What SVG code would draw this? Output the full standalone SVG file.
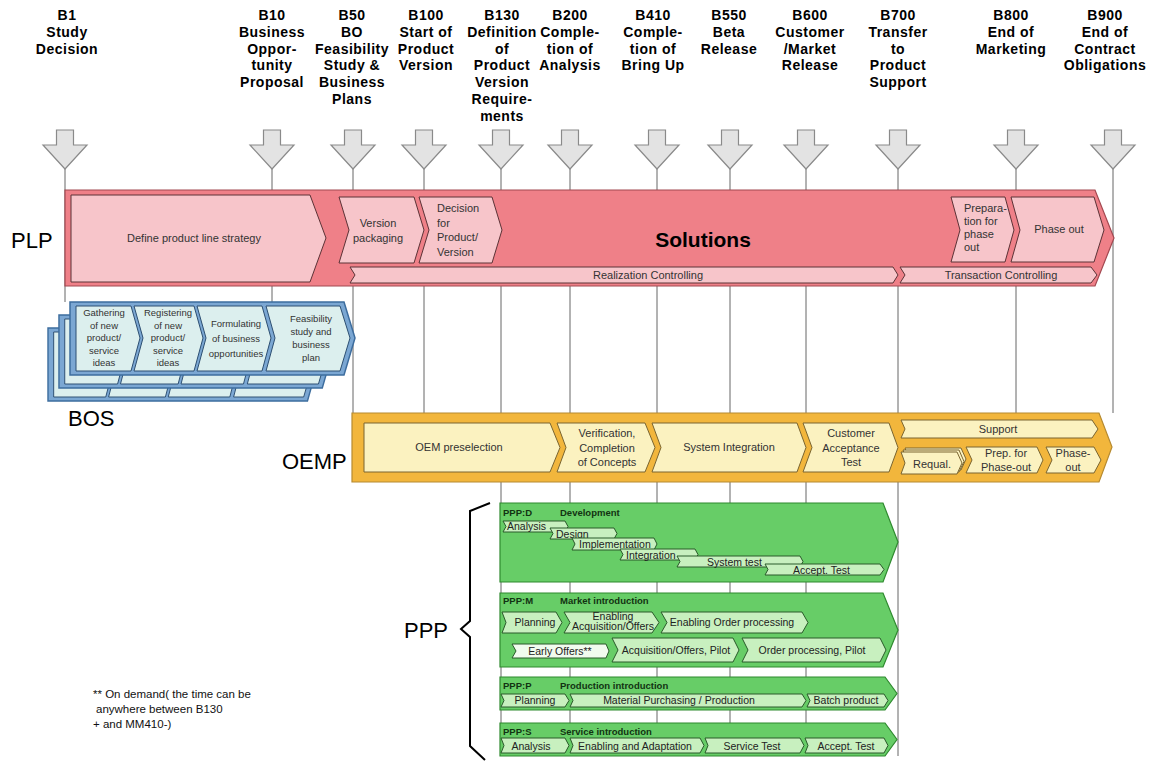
<svg xmlns="http://www.w3.org/2000/svg" xmlns:xlink="http://www.w3.org/1999/xlink" width="1156" height="764" viewBox="0 0 1156 764">
  <defs>
    <style>
      .hdr { font-family: "Liberation Sans", Arial, sans-serif; font-weight: bold; font-size: 14px; letter-spacing: 0.5px; text-anchor: middle; fill: #000; }
      .lbl { font-family: "Liberation Sans", Arial, sans-serif; font-size: 22px; fill: #000; }
      .t { font-family: "Liberation Sans", Arial, sans-serif; font-size: 11px; fill: #333; text-anchor: middle; }
      .ts { font-family: "Liberation Sans", Arial, sans-serif; font-size: 9.5px; fill: #333; text-anchor: middle; }
      .tp { font-family: "Liberation Sans", Arial, sans-serif; font-size: 10.5px; fill: #222; text-anchor: middle; }
      .tl { text-anchor: start; }
      .ttl { font-family: "Liberation Sans", Arial, sans-serif; font-size: 9.5px; font-weight: bold; fill: #123312; }
      .vline { stroke: #666; stroke-width: 1; }
      .msarrow { fill: #e3e3e3; stroke: #8a8a8a; stroke-width: 1.2; }
      .plp-band { fill: #ef8088; stroke: #a24850; stroke-width: 1.2; }
      .plp-box { fill: #f7c5ca; stroke: #5c3236; stroke-width: 1; }
      .bos-frame { fill: #7ba7d3; stroke: #3d6d9e; stroke-width: 1.5; }
      .bos-box { fill: #dcefee; stroke: #2d4f72; stroke-width: 1; }
      .oemp-band { fill: #f2b63c; stroke: #b68a30; stroke-width: 1.2; }
      .oemp-box { fill: #fbf2c0; stroke: #7a6530; stroke-width: 1; }
      .ppp-band { fill: #67cd67; stroke: #2f8a2f; stroke-width: 1.2; }
      .ppp-box { fill: #c8f0bf; stroke: #2a5a2a; stroke-width: 1; }
      .ppp-box-pale { fill: #f1fbee; stroke: #2a5a2a; stroke-width: 1; }
    </style>
    <path id="ms-arrow" class="msarrow" d="M-8.5,130 H8.5 V145 H22 L0,169 L-22,145 H-8.5 Z"/>
    <g id="bos-frame">
      <polygon class="bos-frame" points="70,302 344,302 355,338 344,375 70,375"/>
      <polygon class="bos-box" points="76,306 131,306 140,338 131,371 76,371"/>
      <polygon class="bos-box" points="134,306 194,306 203,338 194,371 134,371 143,338"/>
      <polygon class="bos-box" points="197,306 262,306 271,338 262,371 197,371 206,338"/>
      <polygon class="bos-box" points="266,306 340,306 350,338 340,371 266,371 275,338"/>
    </g>
  </defs>

  <rect width="1156" height="764" fill="#fff"/>

  <!-- milestone guide lines -->
  <g id="connectors">
    <line class="vline" x1="65" y1="169" x2="65" y2="302"/>
    <line class="vline" x1="272" y1="169" x2="272" y2="302"/>
    <line class="vline" x1="353" y1="169" x2="353" y2="413"/>
    <line class="vline" x1="424" y1="169" x2="424" y2="413"/>
    <line class="vline" x1="501" y1="169" x2="501" y2="756"/>
    <line class="vline" x1="570" y1="169" x2="570" y2="756"/>
    <line class="vline" x1="657" y1="169" x2="657" y2="756"/>
    <line class="vline" x1="730" y1="169" x2="730" y2="756"/>
    <line class="vline" x1="806" y1="169" x2="806" y2="756"/>
    <line class="vline" x1="898" y1="169" x2="898" y2="756"/>
    <line class="vline" x1="1016" y1="169" x2="1016" y2="413"/>
    <line class="vline" x1="1113" y1="169" x2="1113" y2="413"/>
  </g>

  <!-- milestones -->
  <g id="ms-b1">
    <use xlink:href="#ms-arrow" x="65"/>
    <text class="hdr" x="67" y="20">B1<tspan x="67" dy="16.8">Study</tspan><tspan x="67" dy="16.8">Decision</tspan></text>
  </g>
  <g id="ms-b10">
    <use xlink:href="#ms-arrow" x="272"/>
    <text class="hdr" x="272" y="20">B10<tspan x="272" dy="16.8">Business</tspan><tspan x="272" dy="16.8">Oppor-</tspan><tspan x="272" dy="16.8">tunity</tspan><tspan x="272" dy="16.8">Proposal</tspan></text>
  </g>
  <g id="ms-b50">
    <use xlink:href="#ms-arrow" x="353"/>
    <text class="hdr" x="352" y="20">B50<tspan x="352" dy="16.8">BO</tspan><tspan x="352" dy="16.8">Feasibility</tspan><tspan x="352" dy="16.8">Study &amp;</tspan><tspan x="352" dy="16.8">Business</tspan><tspan x="352" dy="16.8">Plans</tspan></text>
  </g>
  <g id="ms-b100">
    <use xlink:href="#ms-arrow" x="424"/>
    <text class="hdr" x="426" y="20">B100<tspan x="426" dy="16.8">Start of</tspan><tspan x="426" dy="16.8">Product</tspan><tspan x="426" dy="16.8">Version</tspan></text>
  </g>
  <g id="ms-b130">
    <use xlink:href="#ms-arrow" x="501"/>
    <text class="hdr" x="502" y="20">B130<tspan x="502" dy="16.8">Definition</tspan><tspan x="502" dy="16.8">of</tspan><tspan x="502" dy="16.8">Product</tspan><tspan x="502" dy="16.8">Version</tspan><tspan x="502" dy="16.8">Require-</tspan><tspan x="502" dy="16.8">ments</tspan></text>
  </g>
  <g id="ms-b200">
    <use xlink:href="#ms-arrow" x="570"/>
    <text class="hdr" x="570" y="20">B200<tspan x="570" dy="16.8">Comple-</tspan><tspan x="570" dy="16.8">tion of</tspan><tspan x="570" dy="16.8">Analysis</tspan></text>
  </g>
  <g id="ms-b410">
    <use xlink:href="#ms-arrow" x="657"/>
    <text class="hdr" x="653" y="20">B410<tspan x="653" dy="16.8">Comple-</tspan><tspan x="653" dy="16.8">tion of</tspan><tspan x="653" dy="16.8">Bring Up</tspan></text>
  </g>
  <g id="ms-b550">
    <use xlink:href="#ms-arrow" x="730"/>
    <text class="hdr" x="729" y="20">B550<tspan x="729" dy="16.8">Beta</tspan><tspan x="729" dy="16.8">Release</tspan></text>
  </g>
  <g id="ms-b600">
    <use xlink:href="#ms-arrow" x="806"/>
    <text class="hdr" x="810" y="20">B600<tspan x="810" dy="16.8">Customer</tspan><tspan x="810" dy="16.8">/Market</tspan><tspan x="810" dy="16.8">Release</tspan></text>
  </g>
  <g id="ms-b700">
    <use xlink:href="#ms-arrow" x="898"/>
    <text class="hdr" x="898" y="20">B700<tspan x="898" dy="16.8">Transfer</tspan><tspan x="898" dy="16.8">to</tspan><tspan x="898" dy="16.8">Product</tspan><tspan x="898" dy="16.8">Support</tspan></text>
  </g>
  <g id="ms-b800">
    <use xlink:href="#ms-arrow" x="1016"/>
    <text class="hdr" x="1011" y="20">B800<tspan x="1011" dy="16.8">End of</tspan><tspan x="1011" dy="16.8">Marketing</tspan></text>
  </g>
  <g id="ms-b900">
    <use xlink:href="#ms-arrow" x="1113"/>
    <text class="hdr" x="1105" y="20">B900<tspan x="1105" dy="16.8">End of</tspan><tspan x="1105" dy="16.8">Contract</tspan><tspan x="1105" dy="16.8">Obligations</tspan></text>
  </g>

  <!-- PLP: product line process -->
  <g id="plp">
    <text class="lbl" x="11" y="248">PLP</text>
    <polygon class="plp-band" points="65,190 1095,190 1114,238 1095,286 65,286"/>
    <polygon class="plp-box" points="71,195 310,195 326,238 310,282 71,282"/>
    <text class="t" x="194" y="242">Define product line strategy</text>
    <polygon class="plp-box" points="339,197 414,197 424,230 414,263 339,263 349,230"/>
    <text class="t" x="378" y="227">Version<tspan x="378" dy="15">packaging</tspan></text>
    <polygon class="plp-box" points="419,197 492,197 502,230 492,263 419,263 429,230"/>
    <text class="t tl" x="437" y="212">Decision<tspan x="437" dy="14.5">for</tspan><tspan x="437" dy="14.5">Product/</tspan><tspan x="437" dy="14.5">Version</tspan></text>
    <text x="703" y="247" font-family="Liberation Sans, Arial, sans-serif" font-size="21" font-weight="bold" text-anchor="middle" fill="#000">Solutions</text>
    <polygon class="plp-box" points="951,197 1005,197 1014,230 1005,262 951,262 960,230"/>
    <text class="t tl" x="964" y="212" font-size="8.5">Prepara-<tspan x="964" dy="13">tion for</tspan><tspan x="964" dy="13">phase</tspan><tspan x="964" dy="12.5">out</tspan></text>
    <polygon class="plp-box" points="1011,197 1094,197 1104,230 1094,262 1011,262 1020,230"/>
    <text class="t" x="1059" y="233">Phase out</text>
    <polygon class="plp-box" points="350,267 893,267 898,275 893,283 350,283 355,275"/>
    <text class="t" x="648" y="279">Realization Controlling</text>
    <polygon class="plp-box" points="900,267 1091,267 1097,275 1091,283 900,283 905,275"/>
    <text class="t" x="1001" y="279">Transaction Controlling</text>
  </g>

  <!-- BOS: business opportunity stack -->
  <g id="bos">
    <use xlink:href="#bos-frame" transform="translate(-18.3,26) scale(0.947,1)"/>
    <use xlink:href="#bos-frame" transform="translate(-8.3,13) scale(0.961,1)"/>
    <use xlink:href="#bos-frame"/>
    <text class="ts" x="104" y="316">Gathering<tspan x="104" dy="12.5">of new</tspan><tspan x="104" dy="12.5">product/</tspan><tspan x="104" dy="12.5">service</tspan><tspan x="104" dy="12.5">ideas</tspan></text>
    <text class="ts" x="168" y="316">Registering<tspan x="168" dy="12.5">of new</tspan><tspan x="168" dy="12.5">product/</tspan><tspan x="168" dy="12.5">service</tspan><tspan x="168" dy="12.5">ideas</tspan></text>
    <text class="ts" x="236" y="327">Formulating<tspan x="236" dy="15">of business</tspan><tspan x="236" dy="15">opportunities</tspan></text>
    <text class="ts" x="311" y="322">Feasibility<tspan x="311" dy="13">study and</tspan><tspan x="311" dy="13">business</tspan><tspan x="311" dy="13">plan</tspan></text>
    <text class="lbl" x="68" y="426">BOS</text>
  </g>

  <!-- OEMP: OEM process -->
  <g id="oemp">
    <text class="lbl" x="282" y="469">OEMP</text>
    <polygon class="oemp-band" points="352,413 1099,413 1112,447 1099,482 352,482"/>
    <polygon class="oemp-box" points="364,423 550,423 560,447.5 550,472 364,472"/>
    <text class="t" x="459" y="451" font-size="11.5">OEM preselection</text>
    <polygon class="oemp-box" points="557,423 645,423 655,447.5 645,472 557,472 566,447.5"/>
    <text class="t" x="607" y="437" font-size="11.5">Verification,<tspan x="607" dy="14.5">Completion</tspan><tspan x="607" dy="14.5">of Concepts</tspan></text>
    <polygon class="oemp-box" points="652,423 797,423 806,447.5 797,472 652,472 661,447.5"/>
    <text class="t" x="729" y="451" font-size="11.5">System Integration</text>
    <polygon class="oemp-box" points="803,423 889,423 898,447.5 889,472 803,472 812,447.5"/>
    <text class="t" x="851" y="437" font-size="11.5">Customer<tspan x="851" dy="14.5">Acceptance</tspan><tspan x="851" dy="14.5">Test</tspan></text>
    <polygon class="oemp-box" points="901,420 1092,420 1098,429 1092,438 901,438 905,429"/>
    <text class="t" x="998" y="433" font-size="11.5">Support</text>
    <polygon class="oemp-box" points="905,448 961,448 966,459 961,470 905,470 909,459"/>
    <polygon class="oemp-box" points="903,450 959,450 964,461.5 959,472 903,472 907,461.5"/>
    <polygon class="oemp-box" points="901,452 957,452 962,463 957,474 901,474 905,463"/>
    <text class="t" x="932" y="468" font-size="11.5">Requal.</text>
    <polygon class="oemp-box" points="966,447 1037,447 1043,460 1037,473 966,473 972,460"/>
    <text class="t" x="1006" y="457" font-size="11.5">Prep. for<tspan x="1006" dy="14">Phase-out</tspan></text>
    <polygon class="oemp-box" points="1046,447 1094,447 1101,460 1094,473 1046,473 1052,460"/>
    <text class="t" x="1073" y="457" font-size="11.5">Phase-<tspan x="1073" dy="14">out</tspan></text>
  </g>

  <!-- PPP: product provision process -->
  <g id="ppp">
    <path d="M490,503 L470,511 L470,621 L461,629 L470,637 L470,746 L485,760" fill="none" stroke="#000" stroke-width="2"/>
    <text class="lbl" x="448" y="638" text-anchor="end">PPP</text>
  </g>

  <g id="ppp-d">
    <polygon class="ppp-band" points="500,503 883,503 898,542 883,582 500,582"/>
    <text class="ttl" x="503" y="516">PPP:D</text>
    <text class="ttl" x="560" y="516">Development</text>
    <polygon class="ppp-box" points="503,521 565,521 568,526.5 565,532 503,532 506,526.5"/>
    <text class="tp tl" x="507" y="530" font-size="10">Analysis</text>
    <polygon class="ppp-box" points="550,528 614,528 617,533.5 614,539 550,539 553,533.5"/>
    <text class="tp tl" x="556" y="537.5" font-size="10">Design</text>
    <polygon class="ppp-box" points="572,538 654,538 657,544 654,550 572,550 575,544"/>
    <text class="tp tl" x="579" y="548" font-size="10">Implementation</text>
    <polygon class="ppp-box" points="620,549 695,549 698,554.5 695,560 620,560 623,554.5"/>
    <text class="tp tl" x="626" y="558.5" font-size="10">Integration</text>
    <polygon class="ppp-box" points="677,556 800,556 803,561.5 800,567 677,567 680,561.5"/>
    <text class="tp tl" x="707" y="565.5" font-size="10">System test</text>
    <polygon class="ppp-box" points="765,564 880,564 884,569.5 880,575 765,575 768,569.5"/>
    <text class="tp tl" x="793" y="573.5" font-size="10">Accept. Test</text>
  </g>

  <g id="ppp-m">
    <polygon class="ppp-band" points="500,593 883,593 898,630 883,667 500,667"/>
    <text class="ttl" x="503" y="604">PPP:M</text>
    <text class="ttl" x="560" y="604">Market introduction</text>
    <polygon class="ppp-box" points="502,612 556,612 562,622.5 556,633 502,633 506,622.5"/>
    <text class="tp" x="535" y="626">Planning</text>
    <polygon class="ppp-box" points="564,612 652,612 659,622.5 652,633 564,633 570,622.5"/>
    <text class="tp" x="613" y="620" font-size="10">Enabling<tspan x="613" dy="10">Acquisition/Offers</tspan></text>
    <polygon class="ppp-box" points="661,612 802,612 808,622.5 802,633 661,633 667,622.5"/>
    <text class="tp" x="732" y="626">Enabling Order processing</text>
    <polygon class="ppp-box-pale" points="512,644 606,644 609,651 606,658 512,658 516,651"/>
    <text class="tp" x="560" y="655">Early Offers**</text>
    <polygon class="ppp-box" points="612,638 733,638 739,650 733,662 612,662 618,650"/>
    <text class="tp" x="676" y="654">Acquisition/Offers, Pilot</text>
    <polygon class="ppp-box" points="742,638 880,638 886,650 880,662 742,662 748,650"/>
    <text class="tp" x="812" y="654">Order processing, Pilot</text>
  </g>

  <g id="ppp-p">
    <polygon class="ppp-band" points="500,677 885,677 897,693.5 885,710 500,710"/>
    <text class="ttl" x="503" y="689">PPP:P</text>
    <text class="ttl" x="560" y="689">Production introduction</text>
    <polygon class="ppp-box" points="501,694 565,694 569,700.5 565,707 501,707 504,700.5"/>
    <text class="tp" x="535" y="704">Planning</text>
    <polygon class="ppp-box" points="570,694 802,694 806,700.5 802,707 570,707 573,700.5"/>
    <text class="tp" x="679" y="704">Material Purchasing / Production</text>
    <polygon class="ppp-box" points="807,694 884,694 888,700.5 884,707 807,707 810,700.5"/>
    <text class="tp" x="846" y="704">Batch product</text>
  </g>

  <g id="ppp-s">
    <polygon class="ppp-band" points="500,723 885,723 897,739.5 885,756 500,756"/>
    <text class="ttl" x="503" y="735">PPP:S</text>
    <text class="ttl" x="560" y="735">Service introduction</text>
    <polygon class="ppp-box" points="501,738 565,738 569,745.5 565,753 501,753 504,745.5"/>
    <text class="tp" x="531" y="749.5">Analysis</text>
    <polygon class="ppp-box" points="570,738 700,738 704,745.5 700,753 570,753 573,745.5"/>
    <text class="tp" x="635" y="749.5">Enabling and Adaptation</text>
    <polygon class="ppp-box" points="705,738 800,738 804,745.5 800,753 705,753 708,745.5"/>
    <text class="tp" x="752" y="749.5">Service Test</text>
    <polygon class="ppp-box" points="805,738 884,738 888,745.5 884,753 805,753 808,745.5"/>
    <text class="tp" x="846" y="749.5">Accept. Test</text>
  </g>

  <!-- footnote -->
  <g id="footnote" font-family="Liberation Sans, Arial, sans-serif" font-size="11.5" fill="#111">
    <text x="93" y="698">** On demand( the time can be</text>
    <text x="96" y="713">anywhere between B130</text>
    <text x="93" y="728">+ and MM410-)</text>
  </g>
</svg>
